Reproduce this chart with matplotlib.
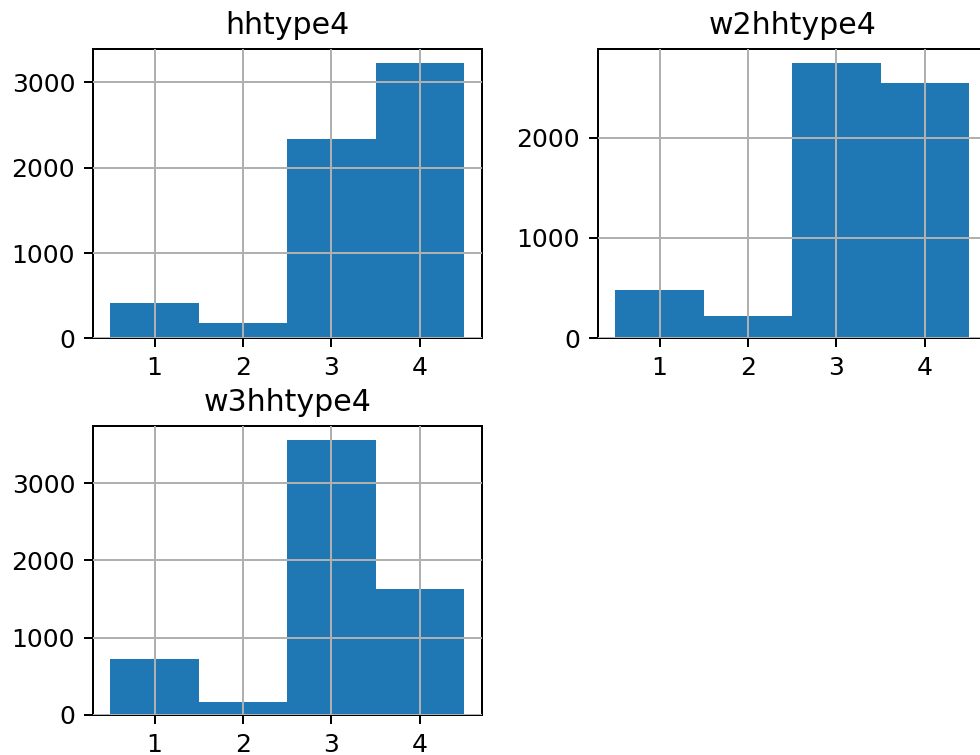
import matplotlib
matplotlib.use("Agg")
import matplotlib.pyplot as plt

# Household type codes and their counts per survey wave
categories = [1, 2, 3, 4]
bin_edges = [0.5, 1.5, 2.5, 3.5, 4.5]

hhtype4 = [410, 180, 2336, 3227]
w2hhtype4 = [482, 223, 2744, 2545]
w3hhtype4 = [725, 168, 3561, 1631]

titles = ["hhtype4", "w2hhtype4", "w3hhtype4"]
series = [hhtype4, w2hhtype4, w3hhtype4]

W, H, DPI = 980, 755, 180
fig = plt.figure(figsize=(W / DPI, H / DPI), dpi=DPI)

# axes rectangles in pixels: left, top, width, height
ax_w, ax_h = 389, 289
boxes = [(92.7, 49.3), (597.7, 49.3), (92.7, 426.0)]

for (left, top), title, counts in zip(boxes, titles, series):
    ax = fig.add_axes([left / W, (H - top - ax_h) / H, ax_w / W, ax_h / H])
    ax.hist(categories, bins=bin_edges, weights=counts, color="#1f77b4")
    ax.set_title(title, fontsize=12)
    ax.set_xticks(categories)
    ax.grid(True)
    ax.set_axisbelow(False)

fig.savefig("out.png", dpi=DPI)
